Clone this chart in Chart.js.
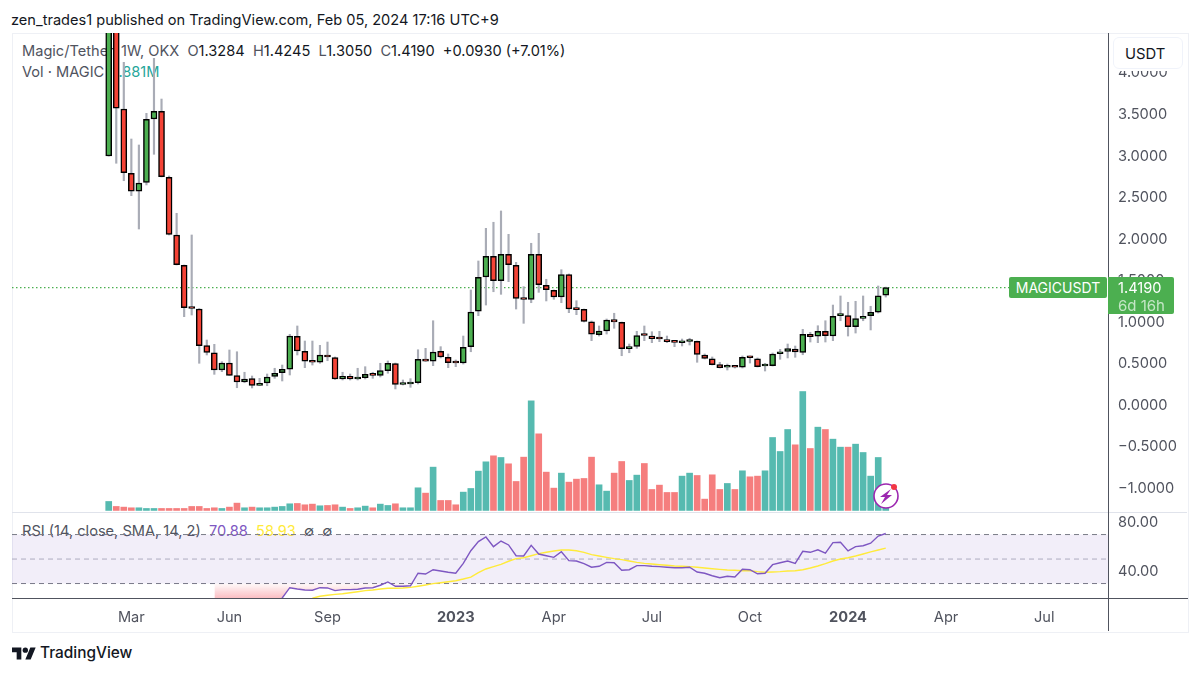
<!DOCTYPE html>
<html><head><meta charset="utf-8">
<script src="https://cdn.jsdelivr.net/npm/chart.js@4"></script>
<style>
html,body{margin:0;padding:0;background:#fff;width:1200px;height:674px;overflow:hidden;font-family:Inter,"Noto Sans",sans-serif}
canvas{position:absolute;left:0;top:0;z-index:2}
.t{position:absolute;white-space:pre;line-height:1}
.under{z-index:1}.over{z-index:3}
.g{color:#50535e}.k{color:#131722}
.box{position:absolute;z-index:3;background:#4caf50;border-radius:2px;color:#fff}
.ln{position:absolute;z-index:2}
</style></head><body>
<div class="t under k" style="left:11px;top:13px;font-size:14.6px">zen_trades1 published on TradingView.com, Feb 05, 2024 17:16 UTC+9</div>
<div class="ln" style="left:12px;top:33px;width:1175px;height:598px;border:1px solid #eef0f5;box-sizing:content-box;z-index:1"></div>
<div class="t under" style="left:22px;top:44px;font-size:14.6px"><span class="g">Magic/Tether, 1W, OKX</span>  <span class="g">O</span><span class="k">1.3284</span>  <span class="g">H</span><span class="k">1.4245</span>  <span class="g">L</span><span class="k">1.3050</span>  <span class="g">C</span><span class="k">1.4190</span>  <span class="k">+0.0930 (+7.01%)</span></div>
<div class="t under" style="left:22px;top:65px;font-size:14.6px"><span class="g">Vol · MAGIC</span>  <span style="color:#26a69a">1.881M</span></div>
<div class="t under" style="left:22px;top:524px;font-size:14.6px"><span class="g">RSI (14, close, SMA, 14, 2)</span>  <span style="color:#7e57c2">70.88</span>  <span style="color:#ffeb3b">58.93</span>  <span class="g">∅  ∅</span></div>
<div class="ln" style="left:12px;top:512px;width:1175px;height:1px;background:#e0e3eb"></div>
<div class="ln" style="left:12px;top:598px;width:1176px;height:1px;background:#50535e"></div>
<div class="ln" style="left:1108px;top:33px;width:1px;height:598px;background:#50535e"></div>
<div class="t over" style="left:1113px;top:37px;width:70px;height:32px;line-height:32px;padding-left:11px;background:#fff;border:1px solid #f0f3fa;border-radius:6px;font-size:14.8px;color:#131722;box-sizing:border-box">USDT</div>
<div class="ln over" style="left:1113px;top:69px;width:73px;height:2px;background:#fff;z-index:3"></div>
<div class="box" style="left:1009px;top:277px;width:98px;height:21px;line-height:21px;text-align:center;font-size:14px">MAGICUSDT</div>
<div class="box" style="left:1108px;top:277px;width:66px;height:37px;border-radius:0 2px 2px 0">
<div class="t" style="left:10px;top:4px;font-size:14.6px">1.4190</div>
<div class="t" style="left:10px;top:21px;font-size:15px;color:#c4e6c6">6d 16h</div></div>
<svg style="position:absolute;left:872px;top:482px;z-index:3" width="28" height="28" viewBox="0 0 28 28">
<circle cx="14" cy="14" r="12" fill="#fff" stroke="#9c27b0" stroke-width="1.6"/>
<path d="M19 7l-11 8h5l-4 7 11-9h-5z" fill="#9c27b0"/><circle cx="22" cy="5" r="3" fill="#f23645"/></svg>
<svg style="position:absolute;left:12px;top:646px;z-index:3" width="24" height="15" viewBox="0 3 36 20"><path d="M14 22H7V11H0V4h14v18zM28 22h-8l7.5-18h8L28 22z" fill="#131722"/><circle cx="20" cy="8" r="4" fill="#131722"/></svg>
<div class="t k" style="left:40px;top:645px;font-size:15.4px;font-weight:500">TradingView</div>
<canvas id="c" width="1200" height="674"></canvas>
<script>
const opens=[3.002,5.600,3.568,2.794,2.578,2.686,3.448,3.540,2.746,2.052,1.687,1.177,1.161,0.720,0.635,0.427,0.511,0.359,0.283,0.323,0.243,0.271,0.351,0.395,0.436,0.833,0.652,0.527,0.520,0.608,0.578,0.319,0.351,0.319,0.335,0.375,0.363,0.419,0.503,0.253,0.259,0.274,0.560,0.532,0.652,0.580,0.520,0.511,0.708,1.134,1.546,1.795,1.502,1.820,1.687,1.285,1.278,1.820,1.446,1.386,1.306,1.576,1.165,1.158,1.008,0.852,0.897,1.033,1.001,0.684,0.712,0.852,0.836,0.809,0.788,0.768,0.755,0.770,0.773,0.608,0.563,0.491,0.460,0.475,0.460,0.587,0.563,0.475,0.479,0.623,0.652,0.680,0.640,0.857,0.833,0.893,0.836,1.081,1.081,0.948,1.049,1.081,1.122,1.3284];
const closes=[5.200,3.577,2.802,2.578,2.678,3.444,3.540,2.753,2.060,1.694,1.177,1.167,0.720,0.640,0.427,0.511,0.363,0.283,0.319,0.243,0.267,0.343,0.388,0.436,0.836,0.656,0.532,0.520,0.608,0.584,0.319,0.351,0.319,0.331,0.375,0.363,0.419,0.508,0.255,0.262,0.271,0.556,0.532,0.644,0.584,0.515,0.511,0.700,1.125,1.543,1.795,1.502,1.820,1.694,1.290,1.276,1.820,1.454,1.394,1.306,1.574,1.161,1.153,1.013,0.857,0.897,1.029,1.005,0.684,0.704,0.840,0.842,0.804,0.800,0.768,0.759,0.764,0.780,0.616,0.568,0.491,0.455,0.475,0.460,0.580,0.575,0.467,0.487,0.620,0.647,0.684,0.644,0.857,0.828,0.893,0.840,1.073,1.093,0.948,1.045,1.069,1.122,1.321,1.4190];
const highs=[5.500,5.800,4.130,3.207,3.135,3.516,4.178,3.688,2.762,2.313,1.691,2.052,1.167,0.788,0.736,0.527,0.668,0.647,0.400,0.355,0.327,0.379,0.448,0.487,0.857,0.957,0.776,0.776,0.724,0.764,0.584,0.400,0.379,0.448,0.467,0.400,0.508,0.536,0.511,0.307,0.323,0.671,0.688,1.020,0.708,0.620,0.548,0.836,1.390,1.739,2.132,2.205,2.341,2.060,1.723,1.430,1.952,2.072,1.519,1.390,1.634,1.583,1.261,1.161,1.017,0.957,1.041,1.110,1.005,0.740,0.893,0.957,0.888,0.893,0.836,0.776,0.800,0.809,0.776,0.620,0.584,0.520,0.499,0.480,0.596,0.596,0.572,0.508,0.632,0.676,0.740,0.716,0.917,0.881,0.960,1.020,1.209,1.318,1.242,1.254,1.318,1.194,1.438,1.4245];
const lows=[3.000,2.915,2.705,2.525,2.124,2.654,3.023,2.750,2.052,1.691,1.069,1.089,0.508,0.608,0.375,0.407,0.361,0.214,0.274,0.211,0.241,0.238,0.327,0.295,0.367,0.608,0.455,0.487,0.508,0.539,0.313,0.307,0.307,0.307,0.319,0.327,0.343,0.388,0.199,0.247,0.219,0.259,0.530,0.479,0.572,0.455,0.467,0.499,0.647,1.081,1.209,1.369,1.338,1.490,1.161,0.989,1.237,1.362,1.258,1.278,1.237,1.117,1.093,1.005,0.780,0.836,0.860,0.929,0.599,0.635,0.688,0.780,0.756,0.768,0.756,0.708,0.716,0.728,0.520,0.560,0.487,0.451,0.427,0.451,0.451,0.511,0.463,0.415,0.475,0.556,0.572,0.580,0.611,0.764,0.756,0.764,0.780,1.020,0.836,0.872,1.020,0.909,1.113,1.3050];
const volumesM=[6.75,3,2.5,2,2,1.5,1.5,1.5,1.5,1.5,1.5,3,3,1.5,2,1.5,2.5,5.5,2,2.5,2,2,2.5,3,5,5.25,4.25,4.75,3.5,3.75,4.25,2.5,1.5,2,3.25,2,4.75,3.75,5,2,2,17,13,32.5,7.5,7.5,4.25,13.75,16.5,29.5,36.5,41,39.75,35,21.75,40,82.25,57.5,28.75,16.75,28,21.25,23.5,24,40,19.25,14.5,28,36.75,22.5,26.5,35.25,15.75,19,13.5,13.5,25.75,28,26.25,8.5,26.75,15.75,20.25,15.75,29.75,25.25,25.75,29.75,54.75,44.25,60.75,49.25,89.25,46.5,62.5,60.75,53.5,47.5,47.5,49.75,43.5,25.75,39.75,1.881];
const rsiValues=[null,null,null,null,null,null,null,null,null,null,null,null,null,null,15,14,12,11,10,9,9,10,12,18.2,26.6,25.5,24.7,24.5,26.6,26.4,24.2,25,25,25.3,26.4,26.6,28.6,31.3,27.8,27.8,28.2,38.4,37.8,41.3,40.2,39.2,38.4,46.5,56.8,64.2,68,60.1,64.7,61.5,52.7,52.5,61.2,54.1,52.7,51.4,56,48.7,48.4,46.2,43.3,44.1,47.3,47,40.8,41.3,44.6,44.6,44.1,43.8,43.3,42.9,42.9,43.3,39.4,38.4,36.4,34.8,35.9,35.3,41.6,41.3,38,38.4,45.4,47,48.4,46.5,56.3,55.5,57.6,54.9,63.4,63.7,56.6,60.1,60.9,62.9,68.8,70.88];
const rsiMaValues=[null,null,null,null,null,null,null,null,null,null,null,null,null,null,null,null,null,null,null,null,null,null,null,null,null,null,null,18,19.6,20.4,21.2,21.7,22.5,23.3,24.2,24.7,25.5,26.1,26.1,26.4,26.9,27.8,28.8,29.9,30.7,31.5,32.3,33.7,35.3,38.9,41.9,43.8,45.7,48.2,50.3,51.1,52.7,54.4,55.5,56.6,57.4,57.4,56.8,55.5,53.6,52.5,51.4,50.3,49.5,48.4,47.3,46.5,46,45.4,44.9,44.3,44.1,43.8,43.3,42.7,42.1,41.6,41.1,40.8,40.5,40.5,39.7,39.2,39.4,39.7,40.2,40.5,41.3,42.7,44.3,46.2,48.4,50,51.1,52.5,54.1,55.8,57.4,58.93];
const volumeUp=[1,0,0,0,1,1,1,0,0,0,0,0,0,0,0,1,0,0,1,0,1,1,1,1,1,0,0,0,1,0,0,1,0,1,1,0,1,1,0,1,1,1,0,1,0,0,0,1,1,1,1,0,1,0,0,0,1,0,0,0,1,0,0,0,0,1,1,0,0,1,1,0,0,0,0,0,1,1,0,0,0,0,1,0,1,0,0,1,1,1,1,0,1,0,1,0,1,1,0,1,1,1,1,1];
const tickWeeks=[3,16,29,46,59,72,85,98,111,124];
const tickNames=["Mar","Jun","Sep","2023","Apr","Jul","Oct","2024","Apr","Jul"];
const priceTicks=[-1,-0.5,0,0.5,1,1.5,2,2.5,3,3.5,4];
const rsiTicks=[40,80];
const rsiBands=[70,50,30];
const lastPrice=1.4190;
const xMin=-12.82,xMax=132.46;

const GREEN='#4caf50',RED='#f44336',INK='#131722';
const grad=document.createElement('canvas').getContext('2d').createLinearGradient(0,585,0,598);
grad.addColorStop(0,'rgba(242,54,69,0.05)');grad.addColorStop(1,'rgba(242,54,69,0.32)');
const xy=(arr)=>arr.map((v,i)=>({x:i,y:v})).filter(p=>p.y!==null);
const font={family:'Inter, "Noto Sans", sans-serif',size:14.6};
const flat=(v)=>[{x:xMin,y:v},{x:xMax,y:v}];
const bandLine=(v,color,extra)=>Object.assign({type:'line',yAxisID:'yRsi',data:flat(v),borderColor:color,borderWidth:1,borderDash:[5,4],pointRadius:0,order:6,fill:false},extra||{});
new Chart(document.getElementById('c'),{
 type:'bar',
 data:{datasets:[
  {label:'bodies',data:opens.map((o,i)=>({x:i,y:[o,closes[i]]})),yAxisID:'y',backgroundColor:opens.map((o,i)=>closes[i]>=o?GREEN:RED),borderColor:'#000',borderWidth:1.5,borderSkipped:false,barThickness:6,minBarLength:2,grouped:false,order:1},
  {label:'wicks',data:lows.map((l,i)=>({x:i,y:[l,highs[i]]})),yAxisID:'y',backgroundColor:'#a9acb6',barThickness:1.5,grouped:false,order:2},
  {label:'volume',data:xy(volumesM),yAxisID:'yVol',backgroundColor:volumeUp.map(u=>u?'rgba(38,166,154,0.78)':'rgba(242,83,83,0.75)'),barThickness:6,grouped:false,order:5},
  {type:'line',label:'last',data:flat(lastPrice),yAxisID:'y',borderColor:GREEN,borderWidth:1.3,borderDash:[1.5,2.5],pointRadius:0,order:3},
  {type:'line',label:'RSI',data:xy(rsiValues),yAxisID:'yRsi',borderColor:'#7e57c2',borderWidth:1.4,pointRadius:0,tension:0,order:2,fill:{value:30,below:grad,above:'rgba(0,0,0,0)'}},
  {type:'line',label:'RSI MA',data:xy(rsiMaValues),yAxisID:'yRsi',borderColor:'#ffeb3b',borderWidth:1.4,pointRadius:0,tension:0,order:3},
  bandLine(rsiBands[0],'#787b86',{fill:{value:rsiBands[2]},backgroundColor:'rgba(126,87,194,0.1)'}),
  bandLine(rsiBands[1],'#b2b5be'),
  bandLine(rsiBands[2],'#787b86')
 ]},
 options:{
  responsive:false,animation:false,devicePixelRatio:1,
  layout:{padding:{left:12,top:33,right:12,bottom:43}},
  plugins:{legend:{display:false},tooltip:{enabled:false}},
  scales:{
   x:{type:'linear',min:xMin,max:xMax,offset:false,grid:{display:false},border:{display:false},
      afterBuildTicks:s=>{s.ticks=tickWeeks.map(v=>({value:v}));},
      afterFit:s=>{s.height=33;},
      ticks:{autoSkip:false,maxRotation:0,padding:3,color:'#50535e',
        callback:v=>tickNames[tickWeeks.indexOf(v)]||'',
        font:c=>{const n=tickNames[tickWeeks.indexOf(c.tick&&c.tick.value)]||'';return Object.assign({},font,{weight:/^\d/.test(n)?'700':'400'});}}},
   y:{type:'linear',position:'right',stack:'panes',stackWeight:479,min:-1.2816,max:4.4826,grid:{display:false},border:{display:false},
      afterBuildTicks:s=>{s.ticks=priceTicks.map(v=>({value:v}));},
      afterFit:s=>{s.width=80;},
      ticks:{padding:2,color:'#50535e',font,autoSkip:false,callback:v=>(v<0?'\u2212':'')+Math.abs(v).toFixed(4)}},
   yRsi:{type:'linear',position:'right',stack:'panes',stackWeight:86,min:18.2,max:88.41,grid:{display:false},border:{display:false},
      afterBuildTicks:s=>{s.ticks=rsiTicks.map(v=>({value:v}));},
      afterFit:s=>{s.width=80;},
      ticks:{padding:2,color:'#50535e',font,autoSkip:false,callback:v=>v.toFixed(2)}},
   yVol:{type:'linear',position:'left',display:false,min:-65.7,max:358.3}
  }
 }
});
</script>
</body></html>
